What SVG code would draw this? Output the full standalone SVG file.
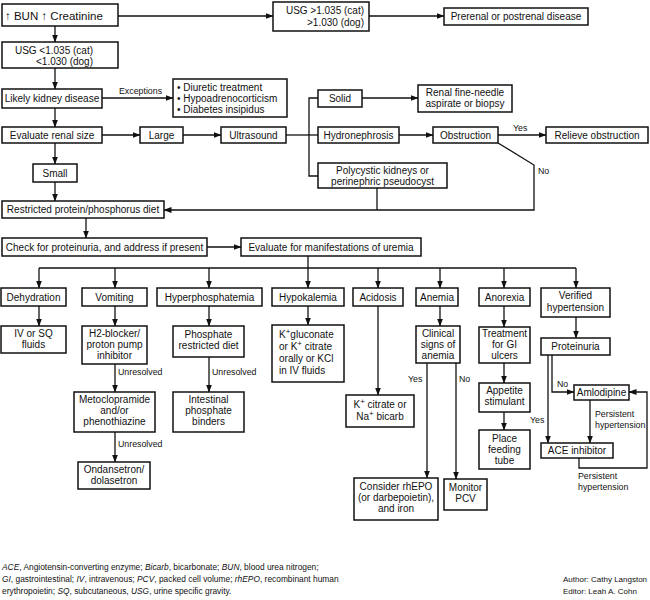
<svg xmlns="http://www.w3.org/2000/svg" width="650" height="600" viewBox="0 0 650 600">
<defs>
<marker id="ah" markerUnits="userSpaceOnUse" markerWidth="8" markerHeight="6" refX="7.5" refY="3" orient="auto">
<path d="M0,0 L8,3 L0,6 z" fill="#111"/>
</marker>
<style>
.b{fill:#fff;stroke:#111;stroke-width:1.5}
.t{font-family:"Liberation Sans",Arial,sans-serif;font-size:10px;fill:#111;text-anchor:middle}
.l{font-family:"Liberation Sans",Arial,sans-serif;font-size:10px;fill:#111}
.r{font-family:"Liberation Sans",Arial,sans-serif;font-size:10px;fill:#111;text-anchor:end}
.s{font-family:"Liberation Sans",Arial,sans-serif;font-size:8.8px;fill:#111}
.f{font-family:"Liberation Sans",Arial,sans-serif;font-size:8.4px;fill:#111}
.c{fill:none;stroke:#111;stroke-width:1.3}
.a{fill:none;stroke:#111;stroke-width:1.3;marker-end:url(#ah)}
</style>
</defs>
<rect width="650" height="600" fill="#fff"/>

<g id="connectors">
<line class="a" x1="118" y1="16" x2="273" y2="16"/>
<line class="a" x1="369" y1="16" x2="444" y2="16"/>
<line class="a" x1="55" y1="26" x2="55" y2="42"/>
<line class="a" x1="55" y1="68" x2="55" y2="89"/>
<line class="a" x1="102" y1="98" x2="173" y2="98"/>
<text class="s" x="119" y="94">Exceptions</text>
<line class="a" x1="55" y1="108" x2="55" y2="127"/>
<line class="a" x1="102" y1="135" x2="140" y2="135"/>
<line class="a" x1="183" y1="135" x2="221" y2="135"/>
<line class="c" x1="286" y1="135" x2="318" y2="135"/>
<polyline class="c" points="318,98 309,98 309,176 318,176"/>
<line class="a" x1="362" y1="98" x2="418" y2="98"/>
<line class="a" x1="399" y1="135" x2="433" y2="135"/>
<line class="a" x1="498" y1="135" x2="546" y2="135"/>
<text class="s" x="513" y="131">Yes</text>
<polyline class="a" points="498,143 534,165 534,210 164,210"/>
<text class="s" x="538" y="174">No</text>
<line class="c" x1="377" y1="188" x2="377" y2="210"/>
<line class="a" x1="55" y1="143" x2="55" y2="164"/>
<line class="a" x1="55" y1="182" x2="55" y2="201"/>
<line class="a" x1="86" y1="218" x2="86" y2="238"/>
<line class="a" x1="207" y1="247" x2="241" y2="247"/>
<line class="c" x1="308" y1="256" x2="308" y2="268"/>
<line class="c" x1="39" y1="268" x2="576" y2="268"/>
<line class="a" x1="39" y1="268" x2="39" y2="288"/>
<line class="a" x1="115" y1="268" x2="115" y2="288"/>
<line class="a" x1="209" y1="268" x2="209" y2="288"/>
<line class="a" x1="308" y1="268" x2="308" y2="288"/>
<line class="a" x1="378" y1="268" x2="378" y2="288"/>
<line class="a" x1="440" y1="268" x2="440" y2="288"/>
<line class="a" x1="504" y1="268" x2="504" y2="288"/>
<line class="a" x1="576" y1="268" x2="576" y2="288"/>
<line class="a" x1="39" y1="306" x2="39" y2="326"/>
<line class="a" x1="115" y1="306" x2="115" y2="326"/>
<line class="a" x1="115" y1="364" x2="115" y2="392"/>
<text class="s" x="118" y="375">Unresolved</text>
<line class="a" x1="115" y1="432" x2="115" y2="462"/>
<text class="s" x="118" y="447">Unresolved</text>
<line class="a" x1="209" y1="306" x2="209" y2="326"/>
<line class="a" x1="209" y1="357" x2="209" y2="392"/>
<text class="s" x="212" y="375">Unresolved</text>
<line class="a" x1="308" y1="306" x2="308" y2="325"/>
<line class="a" x1="378" y1="306" x2="378" y2="395"/>
<line class="a" x1="440" y1="306" x2="440" y2="326"/>
<line class="a" x1="427" y1="363" x2="427" y2="478"/>
<text class="s" x="408" y="382">Yes</text>
<line class="a" x1="456" y1="363" x2="456" y2="479"/>
<text class="s" x="459" y="382">No</text>
<line class="a" x1="504" y1="306" x2="504" y2="327"/>
<line class="a" x1="504" y1="363" x2="504" y2="383"/>
<line class="a" x1="504" y1="412" x2="504" y2="430"/>
<line class="a" x1="576" y1="317" x2="576" y2="338"/>
<line class="a" x1="548" y1="355" x2="548" y2="443"/>
<text class="s" x="530" y="423">Yes</text>
<polyline class="a" points="552,355 552,392 574,392"/>
<text class="s" x="557" y="387">No</text>
<line class="a" x1="590" y1="400" x2="590" y2="443"/>
<text class="s" x="595" y="417">Persistent</text>
<text class="s" x="595" y="428">hypertension</text>
<polyline class="a" points="579,458 579,468 647,468 647,392 629,392"/>
<text class="s" x="578" y="479">Persistent</text>
<text class="s" x="578" y="490">hypertension</text>
</g>

<g id="bun"><rect class="b" x="2" y="4" width="116" height="22"/><text class="l" x="5" y="19.5" style="font-size:11.5px">↑ BUN  ↑ Creatinine</text></g>
<g id="usgHigh"><rect class="b" x="273" y="2" width="96" height="29"/><text class="r" x="364" y="14">USG &gt;1.035 (cat)</text><text class="r" x="364" y="26">&gt;1.030 (dog)</text></g>
<g id="prerenal"><rect class="b" x="444" y="8" width="144" height="17"/><text class="t" x="516" y="20">Prerenal or postrenal disease</text></g>
<g id="usgLow"><rect class="b" x="2" y="42" width="116" height="26"/><text class="r" x="93" y="54">USG &lt;1.035 (cat)</text><text class="r" x="93" y="65">&lt;1.030 (dog)</text></g>
<g id="likely"><rect class="b" x="2" y="89" width="100" height="19"/><text class="t" x="52" y="102">Likely kidney disease</text></g>
<g id="exceptions"><rect class="b" x="173" y="79" width="114" height="38"/><text class="l" x="177" y="91">• Diuretic treatment</text><text class="l" x="177" y="102">• Hypoadrenocorticism</text><text class="l" x="177" y="113">• Diabetes insipidus</text></g>
<g id="evalSize"><rect class="b" x="2" y="127" width="100" height="16"/><text class="t" x="52" y="139">Evaluate renal size</text></g>
<g id="large"><rect class="b" x="140" y="127" width="43" height="16"/><text class="t" x="161.5" y="139">Large</text></g>
<g id="ultrasound"><rect class="b" x="221" y="127" width="65" height="16"/><text class="t" x="253.5" y="139">Ultrasound</text></g>
<g id="solid"><rect class="b" x="318" y="90" width="44" height="17"/><text class="t" x="340" y="102">Solid</text></g>
<g id="renalFna"><rect class="b" x="418" y="85" width="94" height="27"/><text class="t" x="465" y="96">Renal fine-needle</text><text class="t" x="465" y="107">aspirate or biopsy</text></g>
<g id="hydronephrosis"><rect class="b" x="318" y="127" width="81" height="16"/><text class="t" x="358.5" y="139">Hydronephrosis</text></g>
<g id="obstruction"><rect class="b" x="433" y="127" width="65" height="16"/><text class="t" x="465.5" y="139">Obstruction</text></g>
<g id="relieve"><rect class="b" x="546" y="127" width="102" height="16"/><text class="t" x="597" y="139">Relieve obstruction</text></g>
<g id="polycystic"><rect class="b" x="318" y="163" width="129" height="25"/><text class="t" x="382.5" y="174">Polycystic kidneys or</text><text class="t" x="382.5" y="185">perinephric pseudocyst</text></g>
<g id="small"><rect class="b" x="33" y="164" width="44" height="18"/><text class="t" x="55" y="177">Small</text></g>
<g id="restricted"><rect class="b" x="2" y="201" width="162" height="17"/><text class="t" x="83" y="213">Restricted protein/phosphorus diet</text></g>
<g id="check"><rect class="b" x="2" y="238" width="205" height="18"/><text class="t" x="104.5" y="251">Check for proteinuria, and address if present</text></g>
<g id="evalUremia"><rect class="b" x="241" y="238" width="180" height="18"/><text class="t" x="331" y="251">Evaluate for manifestations of uremia</text></g>

<g id="dehydration"><rect class="b" x="1" y="288" width="65" height="18"/><text class="t" x="33.5" y="300.5">Dehydration</text></g>
<g id="ivFluids"><rect class="b" x="1" y="326" width="65" height="27"/><text class="t" x="33.5" y="337">IV or SQ</text><text class="t" x="33.5" y="348">fluids</text></g>
<g id="vomiting"><rect class="b" x="82" y="288" width="65" height="18"/><text class="t" x="114.5" y="300.5">Vomiting</text></g>
<g id="h2blocker"><rect class="b" x="82" y="326" width="65" height="38"/><text class="t" x="114.5" y="337">H2-blocker/</text><text class="t" x="114.5" y="348">proton pump</text><text class="t" x="114.5" y="359">inhibitor</text></g>
<g id="metoclopramide"><rect class="b" x="74" y="392" width="81" height="40"/><text class="t" x="114.5" y="403">Metoclopramide</text><text class="t" x="114.5" y="414">and/or</text><text class="t" x="114.5" y="425">phenothiazine</text></g>
<g id="ondansetron"><rect class="b" x="78" y="462" width="72" height="27"/><text class="t" x="114" y="473">Ondansetron/</text><text class="t" x="114" y="484">dolasetron</text></g>
<g id="hyperphos"><rect class="b" x="157" y="288" width="105" height="18"/><text class="t" x="209.5" y="300.5">Hyperphosphatemia</text></g>
<g id="phosDiet"><rect class="b" x="173" y="326" width="71" height="31"/><text class="t" x="208.5" y="338">Phosphate</text><text class="t" x="208.5" y="349">restricted diet</text></g>
<g id="binders"><rect class="b" x="173" y="392" width="71" height="40"/><text class="t" x="208.5" y="403">Intestinal</text><text class="t" x="208.5" y="414">phosphate</text><text class="t" x="208.5" y="425">binders</text></g>
<g id="hypokalemia"><rect class="b" x="272" y="288" width="72" height="18"/><text class="t" x="308" y="300.5">Hypokalemia</text></g>
<g id="kGluconate"><rect class="b" x="272" y="325" width="72" height="57"/><text class="l" x="279" y="338">K<tspan dy="-4" font-size="8">+</tspan><tspan dy="4">gluconate</tspan></text><text class="l" x="279" y="350">or K<tspan dy="-4" font-size="8">+</tspan><tspan dy="4"> citrate</tspan></text><text class="l" x="279" y="362">orally or KCl</text><text class="l" x="279" y="374">in IV fluids</text></g>
<g id="acidosis"><rect class="b" x="353" y="288" width="50" height="18"/><text class="t" x="378" y="300.5">Acidosis</text></g>
<g id="kCitrate"><rect class="b" x="346" y="395" width="68" height="32"/><text class="t" x="380" y="408">K<tspan dy="-4" font-size="8">+</tspan><tspan dy="4"> citrate or</tspan></text><text class="t" x="380" y="420">Na<tspan dy="-4" font-size="8">+</tspan><tspan dy="4"> bicarb</tspan></text></g>
<g id="anemia"><rect class="b" x="416" y="288" width="42" height="18"/><text class="t" x="437" y="300.5">Anemia</text></g>
<g id="clinicalSigns"><rect class="b" x="416" y="326" width="44" height="37"/><text class="t" x="438" y="337">Clinical</text><text class="t" x="438" y="348">signs of</text><text class="t" x="438" y="359">anemia</text></g>
<g id="rhEPO"><rect class="b" x="354" y="478" width="84" height="42"/><text class="t" x="396" y="490">Consider rhEPO</text><text class="t" x="396" y="501">(or darbepoietin),</text><text class="t" x="396" y="512">and iron</text></g>
<g id="monitorPCV"><rect class="b" x="444" y="479" width="43" height="31"/><text class="t" x="465.5" y="491">Monitor</text><text class="t" x="465.5" y="502">PCV</text></g>
<g id="anorexia"><rect class="b" x="479" y="288" width="51" height="18"/><text class="t" x="504.5" y="300.5">Anorexia</text></g>
<g id="giUlcers"><rect class="b" x="479" y="327" width="51" height="36"/><text class="t" x="504.5" y="337">Treatment</text><text class="t" x="504.5" y="348">for GI</text><text class="t" x="504.5" y="359">ulcers</text></g>
<g id="appetite"><rect class="b" x="479" y="383" width="51" height="29"/><text class="t" x="504.5" y="394">Appetite</text><text class="t" x="504.5" y="405">stimulant</text></g>
<g id="feedingTube"><rect class="b" x="479" y="430" width="51" height="39"/><text class="t" x="504.5" y="442">Place</text><text class="t" x="504.5" y="453">feeding</text><text class="t" x="504.5" y="464">tube</text></g>
<g id="verifiedHT"><rect class="b" x="541" y="288" width="69" height="29"/><text class="t" x="575.5" y="299">Verified</text><text class="t" x="575.5" y="311">hypertension</text></g>
<g id="proteinuria"><rect class="b" x="541" y="338" width="69" height="17"/><text class="t" x="575.5" y="350">Proteinuria</text></g>
<g id="amlodipine"><rect class="b" x="574" y="385" width="55" height="15"/><text class="t" x="601.5" y="396">Amlodipine</text></g>
<g id="aceInhibitor"><rect class="b" x="541" y="443" width="72" height="15"/><text class="t" x="577" y="454">ACE inhibitor</text></g>

<g id="footer">
<text class="f" x="2" y="570"><tspan font-style="italic">ACE</tspan>, Angiotensin-converting enzyme; <tspan font-style="italic">Bicarb</tspan>, bicarbonate; <tspan font-style="italic">BUN</tspan>, blood urea nitrogen;</text>
<text class="f" x="2" y="582"><tspan font-style="italic">GI</tspan>, gastrointestinal; <tspan font-style="italic">IV</tspan>, intravenous; <tspan font-style="italic">PCV</tspan>, packed cell volume; <tspan font-style="italic">rhEPO</tspan>, recombinant human</text>
<text class="f" x="2" y="594">erythropoietin; <tspan font-style="italic">SQ</tspan>, subcutaneous, <tspan font-style="italic">USG</tspan>, urine specific gravity.</text>
<text class="f" x="563" y="582" style="font-size:8px">Author: Cathy Langston</text>
<text class="f" x="563" y="594" style="font-size:8px">Editor: Leah A. Cohn</text>
</g>
</svg>
